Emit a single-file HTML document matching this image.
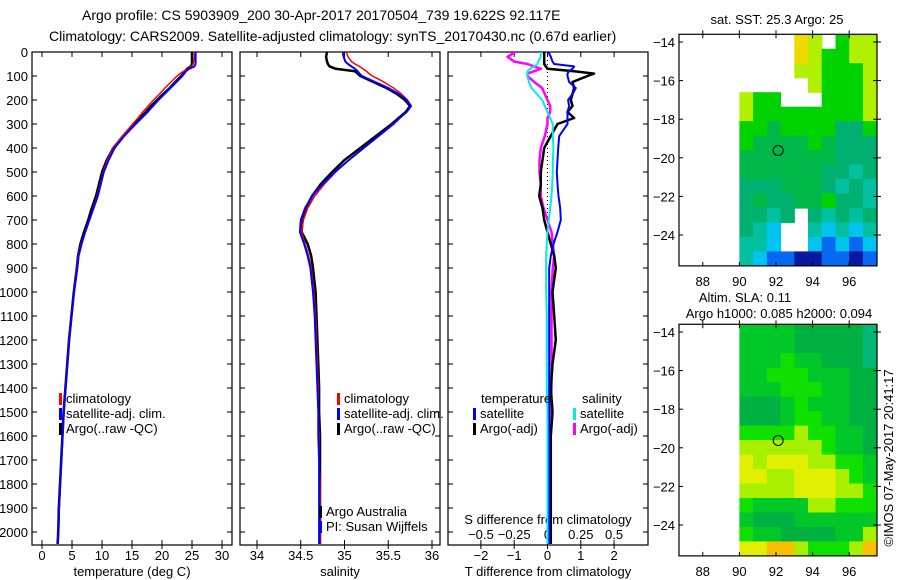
<!DOCTYPE html>
<html><head><meta charset="utf-8"><style>
html,body{margin:0;padding:0;background:#fff;}
svg{display:block;font-family:"Liberation Sans",sans-serif;}
text{fill:#000;}
</style></head><body>
<svg id="c" width="900" height="580" viewBox="0 0 900 580" xmlns="http://www.w3.org/2000/svg">
<text x="82" y="20" font-size="14">Argo profile: CS 5903909_200 30-Apr-2017 20170504_739 19.622S 92.117E</text>
<text x="49" y="41" font-size="14">Climatology: CARS2009. Satellite-adjusted climatology: synTS_20170430.nc (0.67d earlier)</text>
</svg>
<script>
// ---- data ----
const depths=[0,20,40,50,60,70,80,90,100,125,150,175,200,225,250,275,300,350,400,450,500,550,600,650,700,750,800,850,900,1000,1100,1200,1300,1400,1500,1600,1700,1800,1900,2000,2050];
const tempArgo=[25.0,25.0,25.0,25.0,24.8,24.2,23.8,23.5,23.2,22.2,21.3,20.2,19.2,18.2,17.3,16.3,15.4,13.5,11.9,10.8,10.0,9.5,9.0,8.3,7.7,7.0,6.4,6.0,5.8,5.3,4.9,4.5,4.2,3.9,3.6,3.4,3.2,3.0,2.8,2.7,2.6];
const tempClim=[25.4,25.4,25.3,25.2,24.9,24.3,23.6,23.0,22.5,21.5,20.5,19.6,18.6,17.7,16.8,16.0,15.1,13.4,11.9,10.9,10.2,9.7,9.2,8.5,7.9,7.2,6.5,6.0,5.8,5.3,4.9,4.5,4.2,3.9,3.6,3.4,3.2,3.0,2.8,2.7,2.6];
const tempSat=[25.6,25.6,25.6,25.6,25.4,24.5,24.0,23.7,23.4,22.4,21.4,20.4,19.4,18.5,17.6,16.6,15.6,13.7,12.1,11.1,10.3,9.8,9.3,8.6,7.9,7.2,6.6,6.1,5.9,5.35,4.95,4.55,4.25,3.95,3.65,3.45,3.25,3.05,2.85,2.75,2.65];
const salArgo=[34.80,34.79,34.80,34.81,34.83,34.90,35.12,35.15,35.18,35.33,35.48,35.60,35.69,35.75,35.70,35.62,35.54,35.36,35.18,35.00,34.86,34.73,34.63,34.56,34.52,34.51,34.58,34.62,34.64,34.67,34.68,34.69,34.70,34.71,34.71,34.72,34.72,34.72,34.72,34.72,34.72];
const salClim=[35.02,35.04,35.08,35.12,35.17,35.21,35.25,35.28,35.32,35.45,35.56,35.65,35.72,35.76,35.71,35.63,35.55,35.39,35.22,35.05,34.90,34.77,34.66,34.58,34.53,34.51,34.55,34.59,34.62,34.65,34.67,34.68,34.69,34.70,34.70,34.71,34.71,34.72,34.72,34.72,34.72];
const salSat=[34.98,34.99,35.01,35.04,35.08,35.12,35.15,35.17,35.20,35.35,35.50,35.62,35.71,35.76,35.71,35.63,35.56,35.39,35.22,35.05,34.89,34.75,34.63,34.55,34.50,34.49,34.54,34.58,34.61,34.64,34.66,34.67,34.68,34.69,34.70,34.70,34.71,34.71,34.71,34.71,34.71];
const dTArgo=[-0.1,-0.1,-0.1,-0.1,-0.05,0.0,0.8,1.4,1.2,0.75,0.8,0.75,0.7,0.75,0.6,0.8,0.3,0.1,-0.1,-0.15,-0.2,-0.2,-0.25,-0.15,-0.1,0.0,0.1,0.2,0.25,0.15,0.2,0.25,0.15,0.1,0.15,0.1,0.1,0.1,0.1,0.1,0.1];
const dTSat=[0.03,0.1,0.15,0.2,0.8,0.75,0.65,0.6,0.6,0.65,0.85,0.75,0.62,0.65,0.6,0.6,0.6,0.35,0.32,0.3,0.28,0.3,0.33,0.38,0.4,0.3,0.18,0.1,0.05,0.05,0.05,0.05,0.05,0.05,0.05,0.05,0.05,0.05,0.05,0.05,0.05];
const dSSat=[-0.05,-0.05,-0.07,-0.075,-0.1,-0.13,-0.15,-0.15,-0.15,-0.14,-0.12,-0.08,-0.04,-0.02,0.0,0.02,0.04,0.04,0.045,0.04,0.04,0.035,0.03,0.02,0.01,0.0,-0.005,-0.01,-0.01,-0.01,-0.005,-0.005,-0.005,-0.005,0.0,0.0,0.0,0.0,0.0,0.0,0.0];
const dSArgo=[-0.24,-0.3,-0.25,-0.15,-0.1,-0.05,-0.1,-0.15,-0.15,-0.1,-0.04,-0.02,0.0,0.02,0.02,0.0,0.0,-0.02,-0.05,-0.06,-0.06,-0.05,-0.05,-0.03,0.0,0.03,0.04,0.05,0.04,0.03,0.03,0.03,0.03,0.03,0.02,0.02,0.02,0.02,0.02,0.02,0.02];
const depthTicks=[0,100,200,300,400,500,600,700,800,900,1000,1100,1200,1300,1400,1500,1600,1700,1800,1900,2000];
const tempTicks=[0,5,10,15,20,25,30];
const salTicks=[34,34.5,35,35.5,36];
const dTTicks=[-2,-1,0,1,2];
const dSTicks=[-0.5,-0.25,0,0.25,0.5];
const lonTicks=[88,90,92,94,96];
const latTicks=[-14,-16,-18,-20,-22,-24];
const sstRows=["....98.788","....987788","....887778",".....87778","877...7778","8777777778","7767777557","7666676555","6666666555","6666665545","5556665454","5655667554","5545.54545","543..43434","443..32323","4322112212"];
const slaRows=["3333222221","3333222221","3334332221","3344433322","3334443322","2223433322","2223443322","4444544332","5555554332","6566655443","6655666543","5555666554","4333355444","3222333333","4332222335","6677544457"];
const sstColors=["#fff","#0818a0","#0868f0","#00c4f0","#00c0a0","#00b070","#00b848","#00d400","#b0f000","#f0d800"];
const slaColors=["#fff","#00b878","#00b040","#00c828","#10e000","#a8f000","#e0f000","#f8c000"];
const floatLon=92.117, floatLat=-19.622;

const NS="http://www.w3.org/2000/svg";
const svg=document.getElementById('c');
function mk(tag,attrs,parent){const e=document.createElementNS(NS,tag);for(const k in attrs)e.setAttribute(k,attrs[k]);(parent||svg).appendChild(e);return e;}
function txt(x,y,s,anchor,size,parent){const t=mk('text',{x:x,y:y,'font-size':size||13,'text-anchor':anchor||'start'},parent);t.textContent=s;return t;}

const top0=52, bot=545;
const yD=d=>top0+d*0.24;
const panels=[{l:32,r:232},{l:240,r:440},{l:448,r:648}];
const xT=v=>42+v*6;
const xS=v=>257+(v-34)*87.5;
const xDT=v=>547.5+v*33.3;
const xDS=v=>547.5+v*133.2;

panels.forEach((p,i)=>{
  const g=mk('g',{});
  
  
  const r=mk('rect',{x:p.l,y:top0,width:p.r-p.l,height:bot-top0,fill:'none',stroke:'#000','stroke-width':1.2},g);
  
  
  depthTicks.forEach(d=>{
    mk('line',{x1:p.l,x2:p.l+5,y1:yD(d),y2:yD(d),stroke:'#000'},g);
    mk('line',{x1:p.r,x2:p.r-5,y1:yD(d),y2:yD(d),stroke:'#000'},g);
  });
});
// depth labels
depthTicks.forEach(d=>{
  const t=txt(28,yD(d)+5,String(d),'end',13);
  
  
});
function xticks(vals,fx,labelFmt,name,labY){
  vals.forEach(v=>{
    const x=fx(v);
    mk('line',{x1:x,x2:x,y1:top0,y2:top0+5,stroke:'#000'});
    mk('line',{x1:x,x2:x,y1:bot,y2:bot-5,stroke:'#000'});
    mk('line',{x1:x,x2:x,y1:bot,y2:bot+4,stroke:'#000'});
    const t=txt(x,labY,labelFmt(v),'middle',13);
    
    
  });
}
xticks(tempTicks,xT,v=>String(v),'temperature-tick-label',560);
xticks(salTicks,xS,v=>String(v),'salinity-tick-label',560);
xticks(dTTicks,xDT,v=>(v<0?'\u2212':'')+Math.abs(v),'t-diff-tick-label',560);
dSTicks.forEach(v=>{
  const x=xDS(v);
  const t=txt(x,539,(v<0?'\u2212':'')+Math.abs(v),'middle',13);
  
  
});
[['temperature (deg C)',132,'temperature-axis-title'],['salinity',340,'salinity-axis-title'],['T difference from climatology',548,'t-diff-axis-title']].forEach(a=>{
  const t=txt(a[1],576,a[0],'middle',13);
  
  
});
const sdt=txt(548,524,'S difference from climatology','middle',13);



// zero line in diff panel
mk('line',{x1:xDT(0),x2:xDT(0),y1:yD(0),y2:yD(700),stroke:'#000','stroke-dasharray':'1,3'});

function line(vals,fx,color,w,name){
  const pts=vals.map((v,i)=>fx(v).toFixed(1)+','+yD(depths[i]).toFixed(1)).join(' ');
  const p=mk('polyline',{points:pts,fill:'none',stroke:color,'stroke-width':w,'stroke-linejoin':'round'});
  
  
}
line(tempArgo,xT,'#000',2.5,'temperature-argo-line');
line(tempClim,xT,'#ff0000',1.5,'temperature-climatology-line');
line(tempSat,xT,'#0000ff',2,'temperature-satellite-line');
line(salArgo,xS,'#000',2.5,'salinity-argo-line');
line(salClim,xS,'#ff0000',1.5,'salinity-climatology-line');
line(salSat,xS,'#0000ff',2,'salinity-satellite-line');
line(dSArgo,xDS,'#ff00ff',2.5,'s-diff-argo-line');
line(dTArgo,xDT,'#000',2.5,'t-diff-argo-line');
line(dTSat,xDT,'#0000ff',2,'t-diff-satellite-line');
line(dSSat,xDS,'#00e8f0',2,'s-diff-satellite-line');

// legends
function leg(x,y,color,label,name){
  const g=mk('g',{});
  
  
  mk('rect',{x:x,y:y-10,width:3,height:12,fill:color},g);
  txt(x+7,y,label,'start',13,g);
}
leg(59,403,'#ff0000','climatology','legend-climatology');
leg(59,418,'#0000ff','satellite-adj. clim.','legend-satellite-adj');
leg(59,433,'#000','Argo(..raw -QC)','legend-argo-raw');
leg(337,403,'#ff0000','climatology','legend-sal-climatology');
leg(337,418,'#0000ff','satellite-adj. clim.','legend-sal-satellite-adj');
leg(337,433,'#000','Argo(..raw -QC)','legend-sal-argo-raw');
leg(319,516,'#000','Argo Australia','credit-argo-australia');
leg(319,531,'#0000ff','PI: Susan Wijffels','credit-pi');
let tt=txt(481,403,'temperature','start',13);


tt=txt(582,403,'salinity','start',13);


leg(473,418,'#0000ff','satellite','legend-t-satellite');
leg(473,433,'#000','Argo(-adj)','legend-t-argo');
leg(573,418,'#00e8f0','satellite','legend-s-satellite');
leg(573,433,'#ff00ff','Argo(-adj)','legend-s-argo');

// maps
const mL=679,mR=877;
const xLon=lon=>mL+(lon-86.7)*18.3;
function drawMap(rows,colors,y0,name){
  const yLat=lat=>y0+(-14-lat)*19.3;
  const g=mk('g',{});
  
  
  const nr=rows.length, nc=rows[0].length;
  const dLon=7.5/nc, dLat=12/nr;
  rows.forEach((row,ri)=>{
    for(let ci=0;ci<nc;ci++){
      const ch=row[ci]; if(ch==='.') continue;
      const lon0=90+ci*dLon, lat0=-13.6-ri*dLat;
      const x1=xLon(lon0),x2=xLon(lon0+dLon),y1=yLat(lat0),y2=yLat(lat0-dLat);
      const c=mk('rect',{x:x1.toFixed(1),y:y1.toFixed(1),width:(x2-x1+0.6).toFixed(1),height:(y2-y1+0.6).toFixed(1),fill:colors[+ch]},g);
      
      
    }
  });
  const top=yLat(-13.6), btm=yLat(-25.6);
  mk('rect',{x:mL,y:top,width:mR-mL,height:btm-top,fill:'none',stroke:'#000','stroke-width':1.2},g);
  lonTicks.forEach(l=>{
    const x=xLon(l);
    mk('line',{x1:x,x2:x,y1:top,y2:top+4,stroke:'#000'},g);
    mk('line',{x1:x,x2:x,y1:btm,y2:btm-4,stroke:'#000'},g);
    mk('line',{x1:x,x2:x,y1:top,y2:top-4,stroke:'#000'},g);
    const t=txt(x,btm+20,String(l),'middle',13,g);
    
    
  });
  latTicks.forEach(l=>{
    const y=yLat(l);
    mk('line',{x1:mL,x2:mL+4,y1:y,y2:y,stroke:'#000'},g);
    mk('line',{x1:mR,x2:mR-4,y1:y,y2:y,stroke:'#000'},g);
    mk('line',{x1:mR,x2:mR+4,y1:y,y2:y,stroke:'#000'},g);
    const t=txt(mL-4,y+5,'\u2212'+Math.abs(l),'end',13,g);
    
    
  });
  const m=mk('circle',{cx:xLon(floatLon),cy:yLat(floatLat),r:5,fill:'none',stroke:'#000','stroke-width':1},g);
  
  
}
drawMap(sstRows,sstColors,42,'sst-map');
drawMap(slaRows,slaColors,332,'sla-map');
tt=txt(777,24,'sat. SST: 25.3 Argo: 25','middle',13);


tt=txt(745,302,'Altim. SLA: 0.11','middle',13);


tt=txt(779,318,'Argo h1000: 0.085 h2000: 0.094','middle',13);


tt=mk('text',{x:0,y:0,'font-size':13,'text-anchor':'middle',transform:'translate(893,458) rotate(-90)'});
tt.textContent='\u00A9IMOS 07-May-2017 20:41:17';


</script>
</body></html>
